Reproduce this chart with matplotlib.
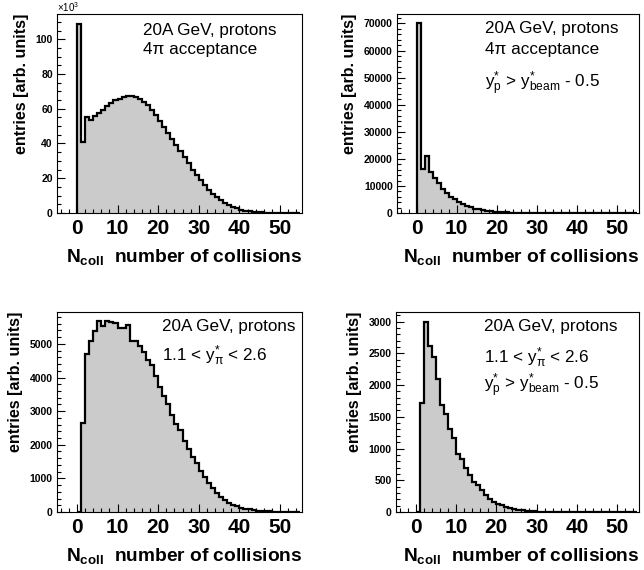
import numpy as np
import matplotlib
matplotlib.use('Agg')
import matplotlib.pyplot as plt
from matplotlib.ticker import MultipleLocator

plt.rcParams['font.family'] = ['Liberation Sans', 'DejaVu Sans']
plt.rcParams['mathtext.fontset'] = 'custom'
plt.rcParams['mathtext.rm'] = 'Liberation Sans'
plt.rcParams['mathtext.it'] = 'Liberation Sans'
plt.rcParams['mathtext.bf'] = 'Liberation Sans:bold'

# bin edges: N_coll = 0 .. 55, unit width
edges = np.arange(0, 56)

# 4pi acceptance (x10^3)
h_4pi = [109, 40.7, 55, 53.4, 55.7, 57.7, 59.5, 61.5, 63.3, 64.8,
         65.8, 66.6, 67.1, 67.2, 66.6, 65.5, 64, 62, 59.5, 56.5,
         53, 49.5, 46, 42.5, 39, 35.5, 32, 28.5, 25, 22,
         19, 16, 13.5, 11.2, 9.2, 7.4, 5.9, 4.6, 3.5, 2.6,
         1.9, 1.4, 1.0, 0.7, 0.5, 0.35, 0.24, 0.16, 0.1, 0.07,
         0.04, 0.03, 0.02, 0.01, 0.01]

# 4pi acceptance, y*_p > y*_beam - 0.5
h_4pi_proj = [70000, 16300, 21000, 15200, 13000, 10900, 8900, 7400, 6000, 5000,
              4100, 3300, 2600, 2100, 1650, 1300, 1000, 780, 600, 460,
              350, 260, 195, 145, 105, 78, 57, 42, 30, 22,
              16, 11, 8, 6, 4, 3, 2, 1, 1, 0,
              0, 0, 0, 0, 0, 0, 0, 0, 0, 0,
              0, 0, 0, 0, 0]

# 1.1 < y*_pi < 2.6
h_pi = [0, 2660, 4710, 5080, 5380, 5670, 5540, 5670, 5650, 5630,
        5480, 5480, 5560, 5080, 5080, 4930, 4760, 4510, 4370, 4050,
        3720, 3450, 3220, 2880, 2630, 2430, 2120, 1880, 1650, 1450,
        1230, 1040, 850, 710, 570, 450, 360, 280, 220, 170,
        130, 100, 75, 55, 40, 30, 20, 15, 10, 7,
        5, 3, 2, 1, 1]

# 1.1 < y*_pi < 2.6 and y*_p > y*_beam - 0.5
h_pi_proj = [0, 1720, 3000, 2620, 2440, 2090, 1690, 1540, 1300, 1170,
             920, 840, 690, 590, 470, 430, 350, 265, 205, 160,
             130, 105, 80, 60, 45, 35, 25, 18, 13, 9,
             6, 4, 3, 2, 1, 1, 0, 0, 0, 0,
             0, 0, 0, 0, 0, 0, 0, 0, 0, 0,
             0, 0, 0, 0, 0]

txt_beam = '20A GeV, protons'
txt_4pi = '4\u03c0 acceptance'
txt_proj = r'$\mathrm{y}^{*}_{\mathrm{p}}$ > $\mathrm{y}^{*}_{\mathrm{beam}}$ - 0.5'
txt_pi = r'1.1 < $\mathrm{y}^{*}_{\pi}$ < 2.6'

W, H = 644, 570
fig = plt.figure(figsize=(W / 100, H / 100), dpi=100)


def px_axes(left, top, right, bottom):
    return fig.add_axes([left / W, 1 - bottom / H, (right - left) / W, (bottom - top) / H])


def draw_panel(ax, values, ymax, ymaj, ymin, texts):
    ax.stairs(values, edges, fill=True, color='#cbcbcb', linewidth=0)
    ax.stairs(values, edges, baseline=0, color='black', linewidth=1.6)
    ax.set_xlim(-4.9, 55.4)
    ax.set_ylim(0, ymax)
    ax.xaxis.set_major_locator(MultipleLocator(10))
    ax.xaxis.set_minor_locator(MultipleLocator(2))
    ax.yaxis.set_major_locator(MultipleLocator(ymaj))
    ax.yaxis.set_minor_locator(MultipleLocator(ymin))
    ax.tick_params(which='both', direction='in', top=False, right=False, width=0.8)
    ax.tick_params(axis='x', which='major', length=6, labelsize=15, pad=4)
    ax.tick_params(axis='x', which='minor', length=3)
    ax.tick_params(axis='y', which='major', length=6, labelsize=7.5, pad=3)
    ax.tick_params(axis='y', which='minor', length=3)
    for lab in ax.get_xticklabels() + ax.get_yticklabels():
        lab.set_fontweight('bold')
    for sp in ax.spines.values():
        sp.set_linewidth(0.8)
    ax.set_xlabel(r'$\mathbf{N}_{\mathbf{coll}}$  number of collisions',
                  fontsize=13.8, fontweight='bold', loc='right', labelpad=7)
    ax.set_ylabel('entries [arb. units]', fontsize=11.5, fontweight='bold',
                  loc='top', labelpad=5)
    for x, y, s in texts:
        ax.text(x, y, s, transform=ax.transAxes, fontsize=12.3, ha='left', va='baseline')


ax1 = px_axes(57, 14, 302, 213)
draw_panel(ax1, h_4pi, 114.5, 20, 5,
           [(0.351, 0.892, txt_beam), (0.351, 0.800, txt_4pi)])
ax1.text(0.0, 1.0, r'$\times10^{3}$', transform=ax1.transAxes, fontsize=7,
         ha='left', va='bottom')

ax2 = px_axes(397, 14, 639, 213)
draw_panel(ax2, h_4pi_proj, 73500, 10000, 2000,
           [(0.365, 0.903, txt_beam), (0.365, 0.797, txt_4pi), (0.365, 0.630, txt_proj)])

ax3 = px_axes(57, 312, 302, 512)
draw_panel(ax3, h_pi, 5950, 1000, 200,
           [(0.43, 0.906, txt_beam), (0.43, 0.755, txt_pi)])

ax4 = px_axes(396, 312, 639, 512)
draw_panel(ax4, h_pi_proj, 3150, 500, 100,
           [(0.362, 0.906, txt_beam), (0.362, 0.745, txt_pi), (0.362, 0.612, txt_proj)])

fig.savefig('out.png', dpi=100)
